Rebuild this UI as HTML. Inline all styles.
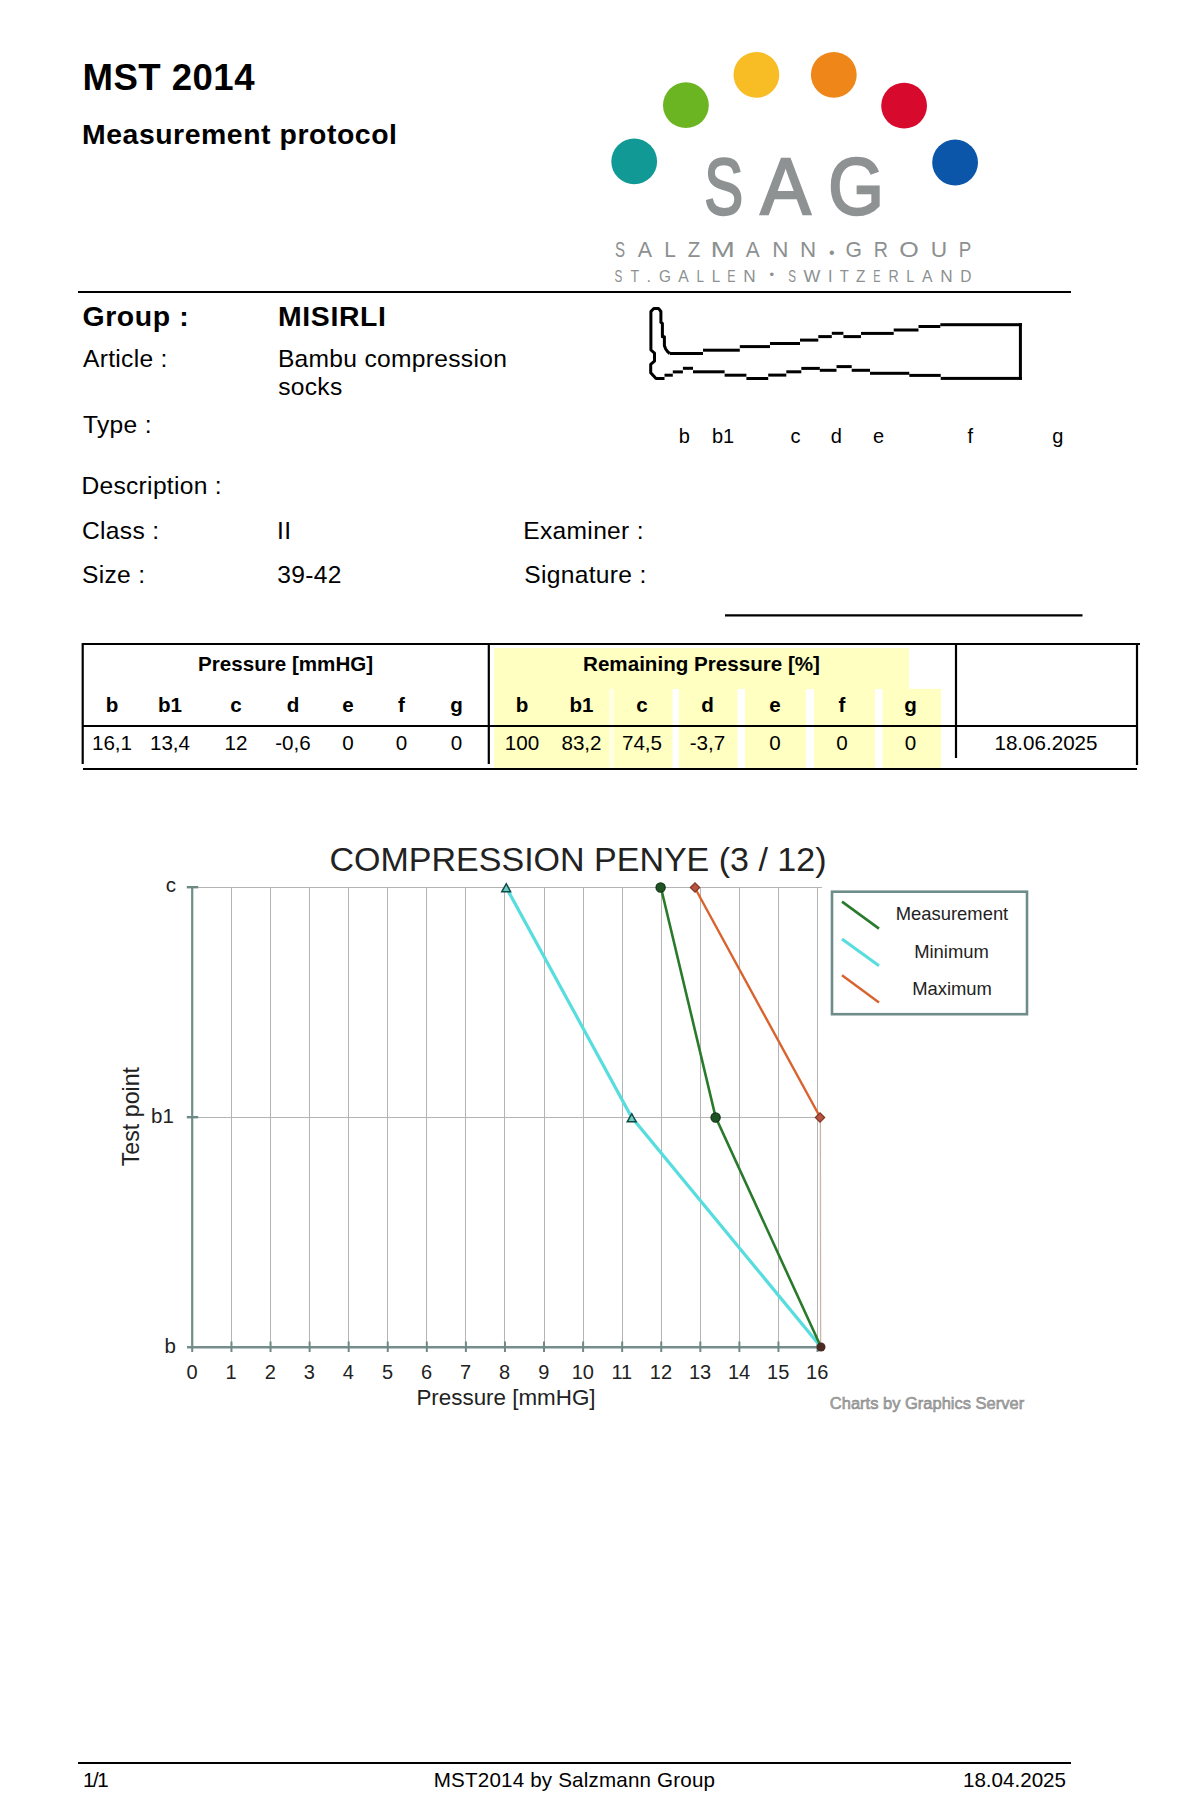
<!DOCTYPE html>
<html><head><meta charset="utf-8"><title>MST 2014 Measurement protocol</title>
<style>
html,body{margin:0;padding:0;background:#fff;}
body{width:1200px;height:1800px;overflow:hidden;}
svg{display:block;font-family:'Liberation Sans', Arial, sans-serif;}
</style></head>
<body>
<svg width="1200" height="1800" viewBox="0 0 1200 1800">
<text x="82.6" y="90" font-size="36.6" font-weight="bold" text-anchor="start" fill="#000" letter-spacing="0.45">MST 2014</text>
<text x="82" y="143.6" font-size="28.4" font-weight="bold" text-anchor="start" fill="#000" letter-spacing="0.55">Measurement protocol</text>
<circle cx="634.2" cy="161.4" r="22.9" fill="#119A95"/>
<circle cx="685.9" cy="105.2" r="22.9" fill="#6CB522"/>
<circle cx="756.4" cy="74.8" r="22.9" fill="#F8BC24"/>
<circle cx="833.8" cy="74.8" r="22.9" fill="#EE861A"/>
<circle cx="904.1" cy="105.7" r="22.9" fill="#D7092D"/>
<circle cx="955.1" cy="162.5" r="22.9" fill="#0C56A9"/>
<g fill="#8E9292" stroke="#8E9292" stroke-width="2.4" font-size="80"><text transform="translate(704.3,213.8) scale(0.73,1)">S</text><text transform="translate(760.6,213.8) scale(0.94,1)">A</text><text transform="translate(828.2,213.8) scale(0.895,1)">G</text></g>
<g aria-label="SALZMANN·GROUP">
<text transform="translate(615.11,256.5) scale(0.663,1)" font-size="22.8" fill="#8C9090">S</text>
<text transform="translate(637.86,256.5) scale(0.939,1)" font-size="22.8" fill="#8C9090">A</text>
<text transform="translate(664.19,256.5) scale(0.915,1)" font-size="22.8" fill="#8C9090">L</text>
<text transform="translate(687.75,256.5) scale(0.897,1)" font-size="22.8" fill="#8C9090">Z</text>
<text transform="translate(710.50,256.5) scale(1.285,1)" font-size="22.8" fill="#8C9090">M</text>
<text transform="translate(745.76,256.5) scale(0.913,1)" font-size="22.8" fill="#8C9090">A</text>
<text transform="translate(772.26,256.5) scale(0.981,1)" font-size="22.8" fill="#8C9090">N</text>
<text transform="translate(800.06,256.5) scale(0.981,1)" font-size="22.8" fill="#8C9090">N</text>
<text x="829.00" y="257.7" font-size="16" fill="#8C9090">•</text>
<text transform="translate(845.54,256.5) scale(0.927,1)" font-size="22.8" fill="#8C9090">G</text>
<text transform="translate(873.78,256.5) scale(0.864,1)" font-size="22.8" fill="#8C9090">R</text>
<text transform="translate(899.21,256.5) scale(1.099,1)" font-size="22.8" fill="#8C9090">O</text>
<text transform="translate(930.75,256.5) scale(0.996,1)" font-size="22.8" fill="#8C9090">U</text>
<text transform="translate(958.86,256.5) scale(0.824,1)" font-size="22.8" fill="#8C9090">P</text>
</g>
<g aria-label="ST.GALLEN · SWITZERLAND">
<text transform="translate(614.57,281.8) scale(0.714,1)" font-size="16.3" fill="#8C9090">S</text>
<text transform="translate(630.58,281.8) scale(0.863,1)" font-size="16.3" fill="#8C9090">T</text>
<text transform="translate(646.51,281.8) scale(1.000,1)" font-size="16.3" fill="#8C9090">.</text>
<text transform="translate(658.93,281.8) scale(0.940,1)" font-size="16.3" fill="#8C9090">G</text>
<text transform="translate(678.37,281.8) scale(0.967,1)" font-size="16.3" fill="#8C9090">A</text>
<text transform="translate(696.40,281.8) scale(0.821,1)" font-size="16.3" fill="#8C9090">L</text>
<text transform="translate(711.65,281.8) scale(0.932,1)" font-size="16.3" fill="#8C9090">L</text>
<text transform="translate(727.29,281.8) scale(0.758,1)" font-size="16.3" fill="#8C9090">E</text>
<text transform="translate(743.19,281.8) scale(1.054,1)" font-size="16.3" fill="#8C9090">N</text>
<text x="769.42" y="279.2" font-size="13" fill="#8C9090">•</text>
<text transform="translate(788.17,281.8) scale(0.714,1)" font-size="16.3" fill="#8C9090">S</text>
<text transform="translate(803.62,281.8) scale(1.095,1)" font-size="16.3" fill="#8C9090">W</text>
<text transform="translate(827.90,281.8) scale(1.000,1)" font-size="16.3" fill="#8C9090">I</text>
<text transform="translate(839.67,281.8) scale(0.911,1)" font-size="16.3" fill="#8C9090">T</text>
<text transform="translate(856.11,281.8) scale(0.941,1)" font-size="16.3" fill="#8C9090">Z</text>
<text transform="translate(873.21,281.8) scale(0.668,1)" font-size="16.3" fill="#8C9090">E</text>
<text transform="translate(888.44,281.8) scale(0.868,1)" font-size="16.3" fill="#8C9090">R</text>
<text transform="translate(906.23,281.8) scale(0.877,1)" font-size="16.3" fill="#8C9090">L</text>
<text transform="translate(922.07,281.8) scale(0.967,1)" font-size="16.3" fill="#8C9090">A</text>
<text transform="translate(940.19,281.8) scale(1.054,1)" font-size="16.3" fill="#8C9090">N</text>
<text transform="translate(960.33,281.8) scale(0.953,1)" font-size="16.3" fill="#8C9090">D</text>
</g>
<line x1="78" y1="292" x2="1071" y2="292" stroke="#000" stroke-width="2" />
<text x="82.5" y="325.7" font-size="28.4" font-weight="bold" text-anchor="start" fill="#000" letter-spacing="0.6">Group :</text>
<text x="278" y="325.7" font-size="28.4" font-weight="bold" text-anchor="start" fill="#000" letter-spacing="0.65">MISIRLI</text>
<text x="83" y="366.5" font-size="24.6" font-weight="normal" text-anchor="start" fill="#000" letter-spacing="0.3">Article :</text>
<text x="277.9" y="366.5" font-size="24.6" font-weight="normal" text-anchor="start" fill="#000" letter-spacing="0.3">Bambu compression</text>
<text x="278.2" y="395" font-size="24.6" font-weight="normal" text-anchor="start" fill="#000" letter-spacing="0.3">socks</text>
<text x="83" y="432.7" font-size="24.6" font-weight="normal" text-anchor="start" fill="#000" letter-spacing="0.3">Type :</text>
<text x="81.4" y="493.8" font-size="24.6" font-weight="normal" text-anchor="start" fill="#000" letter-spacing="0.3">Description :</text>
<text x="82" y="538.8" font-size="24.6" font-weight="normal" text-anchor="start" fill="#000" letter-spacing="0.3">Class :</text>
<text x="277" y="538.8" font-size="24.6" font-weight="normal" text-anchor="start" fill="#000" letter-spacing="0.3">II</text>
<text x="82" y="582.5" font-size="24.6" font-weight="normal" text-anchor="start" fill="#000" letter-spacing="0.3">Size :</text>
<text x="277.3" y="582.5" font-size="24.6" font-weight="normal" text-anchor="start" fill="#000" letter-spacing="0.3">39-42</text>
<text x="523.3" y="538.8" font-size="24.6" font-weight="normal" text-anchor="start" fill="#000" letter-spacing="0.3">Examiner :</text>
<text x="524.3" y="582.5" font-size="24.6" font-weight="normal" text-anchor="start" fill="#000" letter-spacing="0.3">Signature :</text>
<line x1="725" y1="615.3" x2="1082.5" y2="615.3" stroke="#000" stroke-width="2.2" />
<path d="M 669.8 353.5 L 667.6 351.6 L 665.6 348.8 L 664.4 345.6 L 664.4 336.7 L 662.4 336.7 L 662.4 323.5 L 660.9 322.4 L 660.9 311.5 L 658.5 308.4 L 653.8 308.4 L 650.9 311.5 L 650.9 350 L 654.5 353.2 L 654.5 361.1 L 650.7 364.4 L 650.7 372.7 L 656 378.6 L 664.5 378.6" fill="none" stroke="#000" stroke-width="3" stroke-linejoin="round"/>
<rect x="664.5" y="373.7" width="8.3" height="3" fill="#000"/>
<rect x="672.8" y="370.4" width="10.1" height="3" fill="#000"/>
<rect x="682.9" y="366.8" width="10.1" height="3" fill="#000"/>
<rect x="693" y="370.3" width="31.6" height="3" fill="#000"/>
<rect x="724.6" y="373.7" width="21.8" height="3" fill="#000"/>
<rect x="746.4" y="377.0" width="21.8" height="3" fill="#000"/>
<rect x="768.2" y="373.6" width="18.1" height="3" fill="#000"/>
<rect x="786.3" y="370.3" width="15.0" height="3" fill="#000"/>
<rect x="801.3" y="366.9" width="18.5" height="3" fill="#000"/>
<rect x="819.8" y="368.8" width="16.7" height="3" fill="#000"/>
<rect x="836.5" y="365.1" width="15.2" height="3" fill="#000"/>
<rect x="851.7" y="368.8" width="18.3" height="3" fill="#000"/>
<rect x="870" y="371.8" width="39.3" height="3" fill="#000"/>
<rect x="909.3" y="373.9" width="31.4" height="3" fill="#000"/>
<rect x="940.7" y="376.9" width="81.2" height="3" fill="#000"/>
<rect x="669.8" y="352.0" width="33.2" height="3" fill="#000"/>
<rect x="703" y="348.7" width="36.8" height="3" fill="#000"/>
<rect x="739.8" y="345.1" width="30.2" height="3" fill="#000"/>
<rect x="770" y="342.0" width="30" height="3" fill="#000"/>
<rect x="800" y="338.6" width="18.3" height="3" fill="#000"/>
<rect x="818.3" y="335.1" width="13.5" height="3" fill="#000"/>
<rect x="831.8" y="331.8" width="11.6" height="3" fill="#000"/>
<rect x="843.4" y="335.1" width="17.6" height="3" fill="#000"/>
<rect x="861" y="331.9" width="32.7" height="3" fill="#000"/>
<rect x="893.7" y="328.5" width="24.8" height="3" fill="#000"/>
<rect x="918.5" y="325.0" width="21.8" height="3" fill="#000"/>
<rect x="940.3" y="323.2" width="81.6" height="3" fill="#000"/>
<rect x="1018.9" y="323.2" width="3" height="56.7" fill="#000"/>
<text x="684.4" y="442.5" font-size="20" font-weight="normal" text-anchor="middle" fill="#000" >b</text>
<text x="723.1" y="442.5" font-size="20" font-weight="normal" text-anchor="middle" fill="#000" >b1</text>
<text x="795.6" y="442.5" font-size="20" font-weight="normal" text-anchor="middle" fill="#000" >c</text>
<text x="836.4" y="442.5" font-size="20" font-weight="normal" text-anchor="middle" fill="#000" >d</text>
<text x="878.5" y="442.5" font-size="20" font-weight="normal" text-anchor="middle" fill="#000" >e</text>
<text x="970.4" y="442.5" font-size="20" font-weight="normal" text-anchor="middle" fill="#000" >f</text>
<text x="1057.8" y="442.5" font-size="20" font-weight="normal" text-anchor="middle" fill="#000" >g</text>
<rect x="494" y="648" width="415" height="41" fill="#FFFFC2"/>
<rect x="494" y="688.8" width="178.5" height="79" fill="#FFFFC2"/>
<rect x="678.8" y="688.8" width="58.700000000000045" height="79" fill="#FFFFC2"/>
<rect x="745" y="688.8" width="61" height="79" fill="#FFFFC2"/>
<rect x="814" y="688.8" width="61" height="79" fill="#FFFFC2"/>
<rect x="882.5" y="688.8" width="58.5" height="79" fill="#FFFFC2"/>
<rect x="609" y="688.8" width="5" height="79" fill="#FFFFE4"/>
<line x1="82" y1="644" x2="1140" y2="644" stroke="#000" stroke-width="2.2" />
<line x1="83" y1="726" x2="1137" y2="726" stroke="#000" stroke-width="2.2" />
<line x1="83" y1="769" x2="1137" y2="769" stroke="#000" stroke-width="2.2" />
<line x1="82.7" y1="643" x2="82.7" y2="764" stroke="#000" stroke-width="2.2" />
<line x1="488.8" y1="643" x2="488.8" y2="764" stroke="#000" stroke-width="2.2" />
<line x1="956" y1="643" x2="956" y2="758" stroke="#000" stroke-width="2.2" />
<line x1="1137" y1="643" x2="1137" y2="765" stroke="#000" stroke-width="2.2" />
<text x="285.6" y="670.6" font-size="20.6" font-weight="bold" text-anchor="middle" fill="#000" >Pressure [mmHG]</text>
<text x="701.5" y="670.6" font-size="20.6" font-weight="bold" text-anchor="middle" fill="#000" >Remaining Pressure [%]</text>
<text x="112" y="712" font-size="20.6" font-weight="bold" text-anchor="middle" fill="#000" >b</text>
<text x="170" y="712" font-size="20.6" font-weight="bold" text-anchor="middle" fill="#000" >b1</text>
<text x="236" y="712" font-size="20.6" font-weight="bold" text-anchor="middle" fill="#000" >c</text>
<text x="293" y="712" font-size="20.6" font-weight="bold" text-anchor="middle" fill="#000" >d</text>
<text x="348" y="712" font-size="20.6" font-weight="bold" text-anchor="middle" fill="#000" >e</text>
<text x="401.5" y="712" font-size="20.6" font-weight="bold" text-anchor="middle" fill="#000" >f</text>
<text x="456.5" y="712" font-size="20.6" font-weight="bold" text-anchor="middle" fill="#000" >g</text>
<text x="522" y="712" font-size="20.6" font-weight="bold" text-anchor="middle" fill="#000" >b</text>
<text x="581.5" y="712" font-size="20.6" font-weight="bold" text-anchor="middle" fill="#000" >b1</text>
<text x="642" y="712" font-size="20.6" font-weight="bold" text-anchor="middle" fill="#000" >c</text>
<text x="707.5" y="712" font-size="20.6" font-weight="bold" text-anchor="middle" fill="#000" >d</text>
<text x="775" y="712" font-size="20.6" font-weight="bold" text-anchor="middle" fill="#000" >e</text>
<text x="842" y="712" font-size="20.6" font-weight="bold" text-anchor="middle" fill="#000" >f</text>
<text x="910.5" y="712" font-size="20.6" font-weight="bold" text-anchor="middle" fill="#000" >g</text>
<text x="112" y="750" font-size="20.6" font-weight="normal" text-anchor="middle" fill="#000" >16,1</text>
<text x="170" y="750" font-size="20.6" font-weight="normal" text-anchor="middle" fill="#000" >13,4</text>
<text x="236" y="750" font-size="20.6" font-weight="normal" text-anchor="middle" fill="#000" >12</text>
<text x="293" y="750" font-size="20.6" font-weight="normal" text-anchor="middle" fill="#000" >-0,6</text>
<text x="348" y="750" font-size="20.6" font-weight="normal" text-anchor="middle" fill="#000" >0</text>
<text x="401.5" y="750" font-size="20.6" font-weight="normal" text-anchor="middle" fill="#000" >0</text>
<text x="456.5" y="750" font-size="20.6" font-weight="normal" text-anchor="middle" fill="#000" >0</text>
<text x="522" y="750" font-size="20.6" font-weight="normal" text-anchor="middle" fill="#000" >100</text>
<text x="581.5" y="750" font-size="20.6" font-weight="normal" text-anchor="middle" fill="#000" >83,2</text>
<text x="642" y="750" font-size="20.6" font-weight="normal" text-anchor="middle" fill="#000" >74,5</text>
<text x="707.5" y="750" font-size="20.6" font-weight="normal" text-anchor="middle" fill="#000" >-3,7</text>
<text x="775" y="750" font-size="20.6" font-weight="normal" text-anchor="middle" fill="#000" >0</text>
<text x="842" y="750" font-size="20.6" font-weight="normal" text-anchor="middle" fill="#000" >0</text>
<text x="910.5" y="750" font-size="20.6" font-weight="normal" text-anchor="middle" fill="#000" >0</text>
<text x="1046" y="749.6" font-size="20.6" font-weight="normal" text-anchor="middle" fill="#000" >18.06.2025</text>
<line x1="231.5" y1="887" x2="231.5" y2="1347" stroke="#B4B4B4" stroke-width="1" />
<line x1="270.5" y1="887" x2="270.5" y2="1347" stroke="#B4B4B4" stroke-width="1" />
<line x1="309.5" y1="887" x2="309.5" y2="1347" stroke="#B4B4B4" stroke-width="1" />
<line x1="348.5" y1="887" x2="348.5" y2="1347" stroke="#B4B4B4" stroke-width="1" />
<line x1="387.5" y1="887" x2="387.5" y2="1347" stroke="#B4B4B4" stroke-width="1" />
<line x1="426.5" y1="887" x2="426.5" y2="1347" stroke="#B4B4B4" stroke-width="1" />
<line x1="465.5" y1="887" x2="465.5" y2="1347" stroke="#B4B4B4" stroke-width="1" />
<line x1="504.5" y1="887" x2="504.5" y2="1347" stroke="#B4B4B4" stroke-width="1" />
<line x1="544.5" y1="887" x2="544.5" y2="1347" stroke="#B4B4B4" stroke-width="1" />
<line x1="583.5" y1="887" x2="583.5" y2="1347" stroke="#B4B4B4" stroke-width="1" />
<line x1="622.5" y1="887" x2="622.5" y2="1347" stroke="#B4B4B4" stroke-width="1" />
<line x1="661.5" y1="887" x2="661.5" y2="1347" stroke="#B4B4B4" stroke-width="1" />
<line x1="700.5" y1="887" x2="700.5" y2="1347" stroke="#B4B4B4" stroke-width="1" />
<line x1="739.5" y1="887" x2="739.5" y2="1347" stroke="#B4B4B4" stroke-width="1" />
<line x1="778.5" y1="887" x2="778.5" y2="1347" stroke="#B4B4B4" stroke-width="1" />
<line x1="817.5" y1="887" x2="817.5" y2="1347" stroke="#B4B4B4" stroke-width="1" />
<line x1="192" y1="887.5" x2="822" y2="887.5" stroke="#B4B4B4" stroke-width="1" />
<line x1="192" y1="1117.5" x2="822" y2="1117.5" stroke="#B4B4B4" stroke-width="1" />
<line x1="192.2" y1="886" x2="192.2" y2="1348" stroke="#6E8E8A" stroke-width="2.2" />
<line x1="187" y1="1347.3" x2="818" y2="1347.3" stroke="#768E8B" stroke-width="2.6" />
<line x1="231.47" y1="1341.5" x2="231.47" y2="1352" stroke="#6F8886" stroke-width="2" />
<line x1="270.54" y1="1341.5" x2="270.54" y2="1352" stroke="#6F8886" stroke-width="2" />
<line x1="309.61" y1="1341.5" x2="309.61" y2="1352" stroke="#6F8886" stroke-width="2" />
<line x1="348.68" y1="1341.5" x2="348.68" y2="1352" stroke="#6F8886" stroke-width="2" />
<line x1="387.75" y1="1341.5" x2="387.75" y2="1352" stroke="#6F8886" stroke-width="2" />
<line x1="426.82000000000005" y1="1341.5" x2="426.82000000000005" y2="1352" stroke="#6F8886" stroke-width="2" />
<line x1="465.89" y1="1341.5" x2="465.89" y2="1352" stroke="#6F8886" stroke-width="2" />
<line x1="504.96000000000004" y1="1341.5" x2="504.96000000000004" y2="1352" stroke="#6F8886" stroke-width="2" />
<line x1="544.03" y1="1341.5" x2="544.03" y2="1352" stroke="#6F8886" stroke-width="2" />
<line x1="583.1" y1="1341.5" x2="583.1" y2="1352" stroke="#6F8886" stroke-width="2" />
<line x1="622.17" y1="1341.5" x2="622.17" y2="1352" stroke="#6F8886" stroke-width="2" />
<line x1="661.24" y1="1341.5" x2="661.24" y2="1352" stroke="#6F8886" stroke-width="2" />
<line x1="700.3100000000001" y1="1341.5" x2="700.3100000000001" y2="1352" stroke="#6F8886" stroke-width="2" />
<line x1="739.38" y1="1341.5" x2="739.38" y2="1352" stroke="#6F8886" stroke-width="2" />
<line x1="778.4499999999999" y1="1341.5" x2="778.4499999999999" y2="1352" stroke="#6F8886" stroke-width="2" />
<line x1="817.52" y1="1341.5" x2="817.52" y2="1352" stroke="#6F8886" stroke-width="2" />
<line x1="192.2" y1="1347" x2="192.2" y2="1352" stroke="#6F8886" stroke-width="2" />
<line x1="186.8" y1="887.2" x2="198.2" y2="887.2" stroke="#6F8886" stroke-width="2.4" />
<line x1="186.8" y1="1117.2" x2="198.2" y2="1117.2" stroke="#6F8886" stroke-width="2.4" />
<text x="578" y="871.3" font-size="34" font-weight="normal" text-anchor="middle" fill="#222" >COMPRESSION PENYE (3 / 12)</text>
<text x="192.1" y="1378.8" font-size="20" font-weight="normal" text-anchor="middle" fill="#222" >0</text>
<text x="231.17" y="1378.8" font-size="20" font-weight="normal" text-anchor="middle" fill="#222" >1</text>
<text x="270.24" y="1378.8" font-size="20" font-weight="normal" text-anchor="middle" fill="#222" >2</text>
<text x="309.31" y="1378.8" font-size="20" font-weight="normal" text-anchor="middle" fill="#222" >3</text>
<text x="348.38" y="1378.8" font-size="20" font-weight="normal" text-anchor="middle" fill="#222" >4</text>
<text x="387.45" y="1378.8" font-size="20" font-weight="normal" text-anchor="middle" fill="#222" >5</text>
<text x="426.52000000000004" y="1378.8" font-size="20" font-weight="normal" text-anchor="middle" fill="#222" >6</text>
<text x="465.59" y="1378.8" font-size="20" font-weight="normal" text-anchor="middle" fill="#222" >7</text>
<text x="504.66" y="1378.8" font-size="20" font-weight="normal" text-anchor="middle" fill="#222" >8</text>
<text x="543.73" y="1378.8" font-size="20" font-weight="normal" text-anchor="middle" fill="#222" >9</text>
<text x="582.8000000000001" y="1378.8" font-size="20" font-weight="normal" text-anchor="middle" fill="#222" >10</text>
<text x="621.87" y="1378.8" font-size="20" font-weight="normal" text-anchor="middle" fill="#222" >11</text>
<text x="660.94" y="1378.8" font-size="20" font-weight="normal" text-anchor="middle" fill="#222" >12</text>
<text x="700.0100000000001" y="1378.8" font-size="20" font-weight="normal" text-anchor="middle" fill="#222" >13</text>
<text x="739.08" y="1378.8" font-size="20" font-weight="normal" text-anchor="middle" fill="#222" >14</text>
<text x="778.15" y="1378.8" font-size="20" font-weight="normal" text-anchor="middle" fill="#222" >15</text>
<text x="817.22" y="1378.8" font-size="20" font-weight="normal" text-anchor="middle" fill="#222" >16</text>
<text x="176" y="892.2" font-size="20.5" font-weight="normal" text-anchor="end" fill="#222" >c</text>
<text x="173.8" y="1122.8" font-size="20.5" font-weight="normal" text-anchor="end" fill="#222" >b1</text>
<text x="176" y="1352.8" font-size="20.5" font-weight="normal" text-anchor="end" fill="#222" >b</text>
<text x="506" y="1405.4" font-size="22.4" font-weight="normal" text-anchor="middle" fill="#222" >Pressure [mmHG]</text>
<text transform="translate(138.6,1116.6) rotate(-90)" font-size="23.2" text-anchor="middle" fill="#222">Test point</text>
<text x="927" y="1408.8" font-size="16.5" font-weight="normal" text-anchor="middle" fill="#A8A8A8" stroke="#858585" stroke-width="0.55">Charts by Graphics Server</text>
<polyline points="506,887 631.5,1117 821,1347" fill="none" stroke="#58DDDF" stroke-width="3.2"/>
<polyline points="695,888 820,1117" fill="none" stroke="#D8632F" stroke-width="2.4"/>
<line x1="820.4" y1="1117" x2="820.6" y2="1347" stroke="#C9B4A6" stroke-width="1.3" />
<polyline points="660.8,887 715.6,1117 821,1347" fill="none" stroke="#2A7A2C" stroke-width="2.6"/>
<path d="M 501.8 891.7 L 506.3 883.7 L 510.6 891.7 Z" fill="#6CCBC0" stroke="#0F4A44" stroke-width="1.5"/>
<path d="M 627.3 1121.7 L 631.8 1113.7 L 636.1 1121.7 Z" fill="#6CCBC0" stroke="#0F4A44" stroke-width="1.5"/>
<path d="M 690.4 887.5 L 695 882.9 L 699.6 887.5 L 695 892.1 Z" fill="#B9553E" stroke="#843624" stroke-width="1.3"/>
<path d="M 815.4 1117.5 L 820 1112.9 L 824.6 1117.5 L 820 1122.1 Z" fill="#B9553E" stroke="#843624" stroke-width="1.3"/>
<circle cx="660.6" cy="887.5" r="4.6" fill="#1F5225" stroke="#0F3312" stroke-width="1.2"/>
<circle cx="715.6" cy="1117.5" r="4.6" fill="#1F5225" stroke="#0F3312" stroke-width="1.2"/>
<circle cx="821" cy="1347" r="4.5" fill="#4A2A22"/>
<rect x="832" y="891.7" width="195" height="122.5" fill="none" stroke="#6E8C8A" stroke-width="2.6"/>
<line x1="842" y1="901.6" x2="879" y2="928.6" stroke="#2A7A2C" stroke-width="2.6" />
<line x1="842" y1="939" x2="879" y2="965.8" stroke="#58DDDF" stroke-width="3" />
<line x1="842" y1="975.3" x2="879" y2="1002.5" stroke="#D8632F" stroke-width="2.4" />
<text x="952" y="920.3" font-size="18.4" font-weight="normal" text-anchor="middle" fill="#222" >Measurement</text>
<text x="951.5" y="957.9" font-size="18.4" font-weight="normal" text-anchor="middle" fill="#222" >Minimum</text>
<text x="952" y="994.6" font-size="18.4" font-weight="normal" text-anchor="middle" fill="#222" >Maximum</text>
<line x1="78" y1="1763" x2="1071" y2="1763" stroke="#000" stroke-width="2.2" />
<text x="83" y="1786.8" font-size="20.6" font-weight="normal" text-anchor="start" fill="#000" letter-spacing="-1.4">1/1</text>
<text x="574.5" y="1786.8" font-size="20.6" font-weight="normal" text-anchor="middle" fill="#000" letter-spacing="0.18">MST2014 by Salzmann Group</text>
<text x="1066" y="1786.8" font-size="20.6" font-weight="normal" text-anchor="end" fill="#000" >18.04.2025</text>
</svg>
</body></html>
